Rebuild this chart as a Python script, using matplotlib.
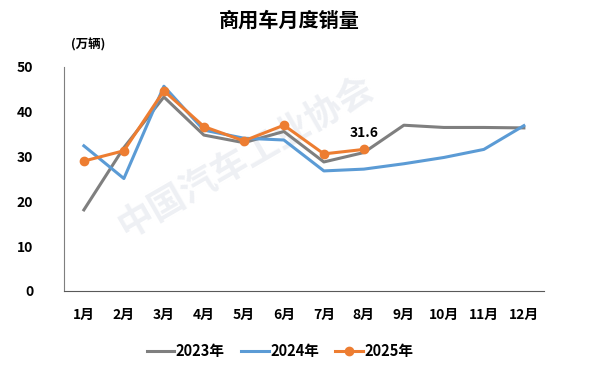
import matplotlib as mpl
import matplotlib.pyplot as plt

plt.rcParams['font.family'] = ['Noto Sans CJK SC', 'DejaVu Sans']

months = ['1月', '2月', '3月', '4月', '5月', '6月', '7月', '8月', '9月', '10月', '11月', '12月']
sales_2023 = [18.1, 32.0, 43.3, 34.8, 33.1, 35.6, 28.8, 30.9, 37.0, 36.5, 36.5, 36.4]
sales_2024 = [32.4, 25.1, 45.7, 35.9, 34.1, 33.7, 26.8, 27.2, 28.4, 29.8, 31.6, 36.9]
sales_2025 = [29.0, 31.3, 44.7, 36.7, 33.5, 37.0, 30.6, 31.6]
yticks = [0, 10, 20, 30, 40, 50]

fig = plt.figure(figsize=(5.97, 3.66), dpi=100)
ax = fig.add_axes([0.107, 0.205, 0.804, 0.612])

# faint watermark behind the lines
ax.text(0.38, 0.6, '中国汽车工业协会', transform=ax.transAxes, fontsize=26, color='#eef0f4',
        rotation=30, ha='center', va='center', fontweight='bold', zorder=1)

x = list(range(len(months)))
ax.plot(x, sales_2023, c='#7f7f7f', lw=2.2, label='2023年', zorder=3)
ax.plot(x, sales_2024, c='#5b9bd5', lw=2.2, label='2024年', zorder=3)
ax.plot(x[:len(sales_2025)], sales_2025, c='#ed7d31', lw=2.2, marker='o', ms=6,
        label='2025年', zorder=4)
ax.text(7, sales_2025[-1] + 2.2, f'{sales_2025[-1]:.1f}', ha='center', va='bottom',
        fontsize=10, fontweight='bold', zorder=5)

ax.set_xlim(-0.5, len(months) - 0.5)
ax.set_ylim(0, 50)
ax.set_yticks(yticks)
ax.set_xticks(x)
ax.set_xticklabels(months)
for lbl in ax.get_xticklabels() + ax.get_yticklabels():
    lbl.set_fontweight('bold')
    lbl.set_fontsize(10)
ax.tick_params(length=0, pad=12)
ax.tick_params(axis='y', pad=22)
for sp in ['top', 'right']:
    ax.spines[sp].set_visible(False)
ax.spines['left'].set_color('#7f7f7f')
ax.spines['bottom'].set_color('#595959')

fig.text(0.485, 0.945, '商用车月度销量', ha='center', va='center', fontsize=14.5, fontweight='bold')
fig.text(0.148, 0.878, '(万辆)', ha='center', va='center', fontsize=9, fontweight='bold')

leg = fig.legend(loc='center', bbox_to_anchor=(0.469, 0.04), ncol=3, frameon=False,
                 fontsize=10.5, handlelength=1.9, columnspacing=1.1, handletextpad=0.1)
for t in leg.get_texts():
    t.set_fontweight('bold')

plt.savefig('out.png', dpi=100)
